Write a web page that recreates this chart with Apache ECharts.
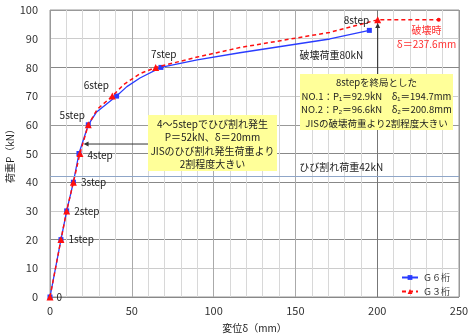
<!DOCTYPE html>
<html><head><meta charset="utf-8">
<script src="https://cdn.jsdelivr.net/npm/echarts@6/dist/echarts.min.js"></script>
<style>html,body{margin:0;padding:0;background:#fff}#c{width:470px;height:336px}</style>
</head><body><div id="c"></div>
<script>
// ---- data ----
const xTicks = [0, 50, 100, 150, 200, 250];
const yTicks = [0, 10, 20, 30, 40, 50, 60, 70, 80, 90, 100];
const g6Name = 'Ｇ６桁';
const g3Name = 'Ｇ３桁';
const g6Delta = [0, 6.7, 10.2, 14.3, 17.7, 23.4, 28.5, 40.7, 47, 55, 67.8, 90, 116, 171, 195.2];
const g6Load  = [0, 20, 30, 40, 50, 60, 64.5, 70, 73.3, 76.3, 80, 82.6, 85.1, 89.9, 92.9];
const g6Step  = [1, 1, 1, 1, 1, 1, 0, 1, 0, 0, 1, 0, 0, 0, 1];
const g3Delta = [0, 6.7, 10.2, 14.3, 18.3, 23.4, 29, 38.1, 45, 55, 64.6, 90, 116, 171, 200.3, 237.6];
const g3Load  = [0, 20, 30, 40, 50, 60, 65.5, 70, 74, 77.8, 80, 83.6, 86.9, 92.2, 96.6, 96.6];
const g3Step  = [1, 1, 1, 1, 1, 1, 0, 1, 0, 0, 1, 0, 0, 0, 1, 2];
const stepLabels = ['0', '1step', '2step', '3step', '4step', '5step', '6step', '7step', '8step'];
const crackLoad = 42;
const crackText = 'ひび割れ荷重42kN';
const failLoadText = '破壊荷重80kN';
const failPoint = [237.6, 96.6];
const failText = ['破壊時', 'δ＝237.6mm'];
const box1Lines = ['4～5stepでひび割れ発生', 'P＝52kN、δ＝20mm', 'JISのひび割れ発生荷重より', '2割程度大きい'];
const box2Lines = ['8stepを終局とした', 'NO.1：P₁＝92.9kN　δ₁＝194.7mm', 'NO.2：P₂＝96.6kN　δ₂＝200.8mm', 'JISの破壊荷重より2割程度大きい'];

// ---- styles ----
const FONT = '"Noto Sans CJK JP", sans-serif';
const BLUE = '#2a3cff';
const RED = '#ff1010';
const labelPos = [
  {position: 'right', distance: 3},
  {position: 'right', distance: 4},
  {position: 'right', distance: 4},
  {position: 'right', distance: 4},
  {position: 'right', distance: 4, offset: [0, 2]},
  {position: 'top', distance: 5, offset: [-16, 4]},
  {position: 'top', distance: 5, offset: [-16, 3]},
  {position: 'top', distance: 5, offset: [8, 0]},
  {position: 'left', distance: 5}
];

function build(dx, dy, flags, withLabels) {
  const out = [];
  let k = 0;
  for (let i = 0; i < dx.length; i++) {
    const item = {value: [dx[i], dy[i]]};
    if (flags[i] === 0) {
      item.symbol = 'none';
    } else if (flags[i] === 2) {
      item.symbol = 'circle';
      item.symbolSize = 4;
    } else {
      if (withLabels) {
        const p = labelPos[k];
        item.label = Object.assign({show: true, formatter: stepLabels[k], color: '#222', fontSize: 10, fontFamily: FONT}, p);
      }
      k++;
    }
    out.push(item);
  }
  return out;
}

const hSplit = ['#888', '#ccc', '#888', '#ccc', '#888', '#888', '#999', '#ccc', '#888', '#ccc', '#999'];
const vSplit = ['#999', '#aaa', '#aaa', '#aaa', '#777', '#999'];

const chart = echarts.init(document.getElementById('c'));
const option = {
  animation: false,
  backgroundColor: '#fff',
  textStyle: {fontFamily: FONT},
  grid: {left: 50, right: 11, top: 10, bottom: 39, show: true, borderColor: '#999', borderWidth: 1,
         containLabel: false, outerBoundsMode: 'none'},
  legend: {
    orient: 'vertical', left: 396, top: 268, itemWidth: 16, itemHeight: 6, itemGap: 5,
    textStyle: {fontSize: 9, color: '#333', fontFamily: FONT},
    data: [g6Name, g3Name]
  },
  xAxis: {
    type: 'value', min: xTicks[0], max: xTicks[xTicks.length - 1], interval: 50,
    name: '変位δ（mm）', nameLocation: 'middle', nameGap: 26, nameMoveOverlap: false,
    nameTextStyle: {fontSize: 10, color: '#222', fontFamily: FONT},
    axisLine: {show: false}, axisTick: {show: false},
    axisLabel: {fontSize: 11, color: '#333', margin: 8, fontFamily: FONT},
    splitLine: {show: true, lineStyle: {color: vSplit, width: 1}},
    minorTick: {show: false, splitNumber: 5},
    minorSplitLine: {show: true, lineStyle: {color: '#d8d8d8', width: 1}}
  },
  yAxis: {
    type: 'value', min: yTicks[0], max: yTicks[yTicks.length - 1], interval: 10,
    name: '荷重P（kN）', nameLocation: 'middle', nameGap: 35, nameRotate: 90, nameMoveOverlap: false,
    nameTextStyle: {fontSize: 10, color: '#222', fontFamily: FONT},
    axisLine: {show: false}, axisTick: {show: false},
    axisLabel: {fontSize: 11, color: '#333', margin: 12, fontFamily: FONT},
    splitLine: {show: true, lineStyle: {color: hSplit, width: 1}}
  },
  series: [
    {
      name: g6Name, type: 'line', z: 3,
      data: build(g6Delta, g6Load, g6Step, false),
      symbol: 'rect', symbolSize: 5,
      itemStyle: {color: BLUE},
      lineStyle: {color: BLUE, width: 1.3, type: 'solid'},
      markLine: {
        silent: true, symbol: 'none', label: {show: false},
        lineStyle: {color: '#8fa6c8', width: 1, type: 'solid'},
        data: [{yAxis: crackLoad}]
      },
      markPoint: {
        symbol: 'rect', symbolSize: 0, silent: true,
        label: {show: true, color: '#222', fontSize: 10, fontFamily: FONT},
        data: [
          {coord: [178, 45.2], label: {formatter: crackText}},
          {coord: [172, 84.2], label: {formatter: failLoadText}}
        ]
      }
    },
    {
      name: g3Name, type: 'line', z: 4,
      data: build(g3Delta, g3Load, g3Step, true),
      symbol: 'triangle', symbolSize: 7,
      itemStyle: {color: RED},
      lineStyle: {color: RED, width: 1.5, type: [4, 3]},
      markPoint: {
        symbol: 'rect', symbolSize: 0, silent: true,
        label: {show: true, color: '#ff3030', fontSize: 10, fontFamily: FONT},
        data: [
          {coord: [failPoint[0] - 7.5, failPoint[1] - 3.5], label: {formatter: failText[0]}},
          {coord: [failPoint[0] - 7.5, failPoint[1] - 8.5], label: {formatter: failText[1]}}
        ]
      }
    }
  ]
};
chart.setOption(option);

// annotation boxes with arrows, placed from data coordinates
function px(x, y) { return chart.convertToPixel({gridIndex: 0}, [x, y]); }
function arrowHead(tip, dir) {
  const s = 5, w = 2.5;
  if (dir === 'left') return [[tip[0], tip[1]], [tip[0] + s, tip[1] - w], [tip[0] + s, tip[1] + w]];
  return [[tip[0], tip[1]], [tip[0] - w, tip[1] + s], [tip[0] + w, tip[1] + s]];
}
const b1 = {x: 148, y: 115, w: 129, h: 56};
const b2 = {x: 300, y: 74, w: 153, h: 56};
const tip1 = px(20.5, 53.3);
const tip2 = px(200.3, 95.5);
chart.setOption({
  graphic: [
    {type: 'polyline', z: 50, shape: {points: [[b1.x, tip1[1]], [tip1[0] + 2, tip1[1]]]}, style: {stroke: '#333', lineWidth: 1}},
    {type: 'polygon', z: 50, shape: {points: arrowHead([tip1[0], tip1[1]], 'left')}, style: {fill: '#333'}},
    {type: 'polyline', z: 50, shape: {points: [[tip2[0], b2.y], [tip2[0], tip2[1] + 2]]}, style: {stroke: '#333', lineWidth: 1}},
    {type: 'polygon', z: 50, shape: {points: arrowHead([tip2[0], tip2[1]], 'up')}, style: {fill: '#333'}},
    {type: 'rect', z: 60, shape: {x: b1.x, y: b1.y, width: b1.w, height: b1.h}, style: {fill: '#ffff99'}},
    {type: 'text', z: 61, style: {text: box1Lines.join('\n'), x: b1.x + b1.w / 2, y: b1.y + 2, align: 'center', verticalAlign: 'top', lineHeight: 13.5, font: '10px ' + FONT, fill: '#222'}},
    {type: 'rect', z: 60, shape: {x: b2.x, y: b2.y, width: b2.w, height: b2.h}, style: {fill: '#ffff99'}},
    {type: 'text', z: 61, style: {text: box2Lines.join('\n'), x: b2.x + b2.w / 2, y: b2.y + 2, align: 'center', verticalAlign: 'top', lineHeight: 13.5, font: '9.5px ' + FONT, fill: '#222'}}
  ]
});
</script></body></html>
